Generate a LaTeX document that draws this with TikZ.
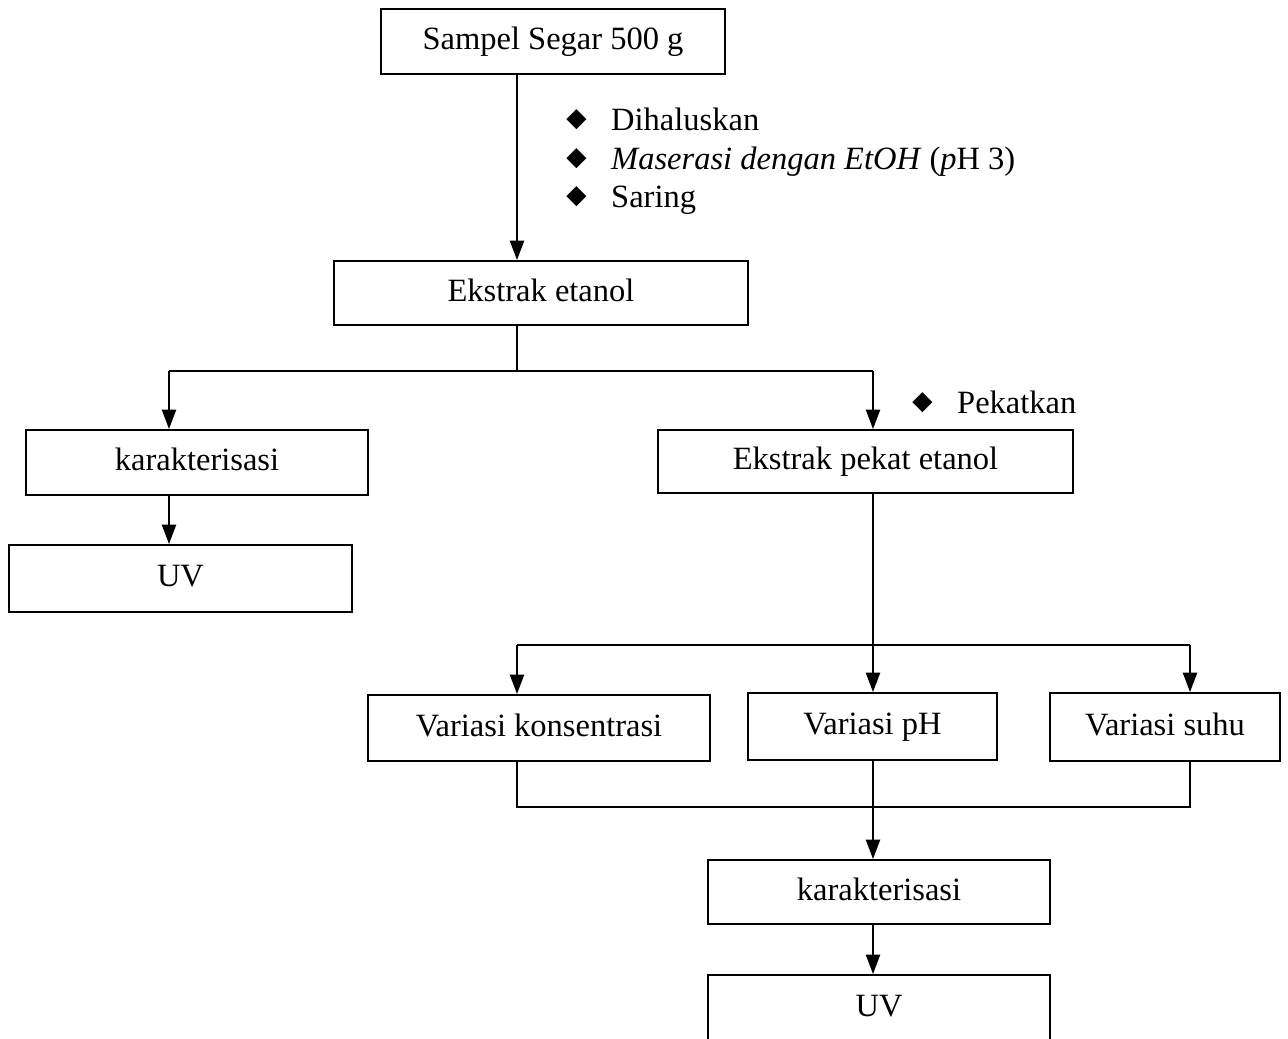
\documentclass[tikz,border=0pt]{standalone}
\usepackage{fontspec}
\setmainfont{Liberation Serif}
\newfontfamily\symfam{DejaVu Sans}
\usetikzlibrary{arrows.meta}
\newcommand{\dmd}{\raisebox{2pt}{\symfam\fontsize{15}{15}\selectfont\char"25C6}}
\begin{document}
\begin{tikzpicture}[x=0.02cm,y=-0.02cm,
  every node/.style={font=\fontsize{18.5}{22}\selectfont},
  box/.style={draw, line width=1.1pt, inner sep=0pt, text height=2.1ex, text depth=0.1ex},
  conn/.style={line width=1.1pt},
  arr/.style={line width=1.1pt, -{Triangle[length=11pt,width=8pt]}},
  bul/.style={anchor=base west, inner sep=0pt}]
\useasboundingbox (0,0) rectangle (1288,1038);
\clip (0,0) rectangle (1288,1038);
\node[box, minimum width=6.88cm, minimum height=1.30cm] (samp) at (553,41.5) {Sampel Segar 500 g};
\node[box, minimum width=8.28cm, minimum height=1.28cm] (ext) at (541,293) {Ekstrak etanol};
\node[box, minimum width=6.84cm, minimum height=1.30cm] (kar1) at (197,462.5) {karakterisasi};
\node[box, minimum width=6.86cm, minimum height=1.34cm] (uv1) at (180.5,578.5) {UV};
\node[box, minimum width=8.30cm, minimum height=1.26cm] (pek) at (865.5,461.5) {Ekstrak pekat etanol};
\node[box, minimum width=6.84cm, minimum height=1.32cm] (vk) at (539,728) {Variasi konsentrasi};
\node[box, minimum width=4.98cm, minimum height=1.34cm] (vph) at (872.5,726.5) {Variasi pH};
\node[box, minimum width=4.60cm, minimum height=1.36cm] (vs) at (1165,727) {Variasi suhu};
\node[box, minimum width=6.84cm, minimum height=1.28cm] (kar2) at (879,892) {karakterisasi};
\node[box, minimum width=6.84cm, minimum height=1.32cm] (uv2) at (879,1008) {UV};

\node[bul] (b1) at (566,130) {\dmd\hspace{14pt}Dihaluskan};
\node[bul] (b2) at (566,169) {\dmd\hspace{14pt}\textit{Maserasi dengan EtOH} (\textit{p}H 3)};
\node[bul] (b3) at (566,207) {\dmd\hspace{14pt}Saring};
\node[bul] (b4) at (912,413) {\dmd\hspace{14pt}Pekatkan};

\coordinate (s1) at (517,371);
\coordinate (sl) at (169,371);
\coordinate (sr) at (873,371);
\coordinate (t1) at (873,645);
\coordinate (tl) at (517,645);
\coordinate (tr) at (1190,645);
\coordinate (ml) at (517,807);
\coordinate (mr) at (1190,807);
\coordinate (mm) at (873,807);

\draw[arr] (samp.south -| 517,0) -- (ext.north -| 517,0);
\draw[conn] (ext.south -| s1) -- (s1);
\draw[conn] (sl) -- (sr);
\draw[arr] (sl) -- (kar1.north -| sl);
\draw[arr] (sr) -- (pek.north -| sr);
\draw[arr] (kar1.south -| sl) -- (uv1.north -| sl);
\draw[arr] (pek.south -| t1) -- (vph.north -| t1);
\draw[conn] (tl) -- (tr);
\draw[arr] (tl) -- (vk.north -| tl);
\draw[arr] (tr) -- (vs.north -| tr);
\draw[conn] (vk.south -| ml) -- (ml) -- (mr) -- (vs.south -| mr);
\draw[arr] (vph.south -| mm) -- (kar2.north -| mm);
\draw[arr] (kar2.south -| mm) -- (uv2.north -| mm);
\end{tikzpicture}
\end{document}
